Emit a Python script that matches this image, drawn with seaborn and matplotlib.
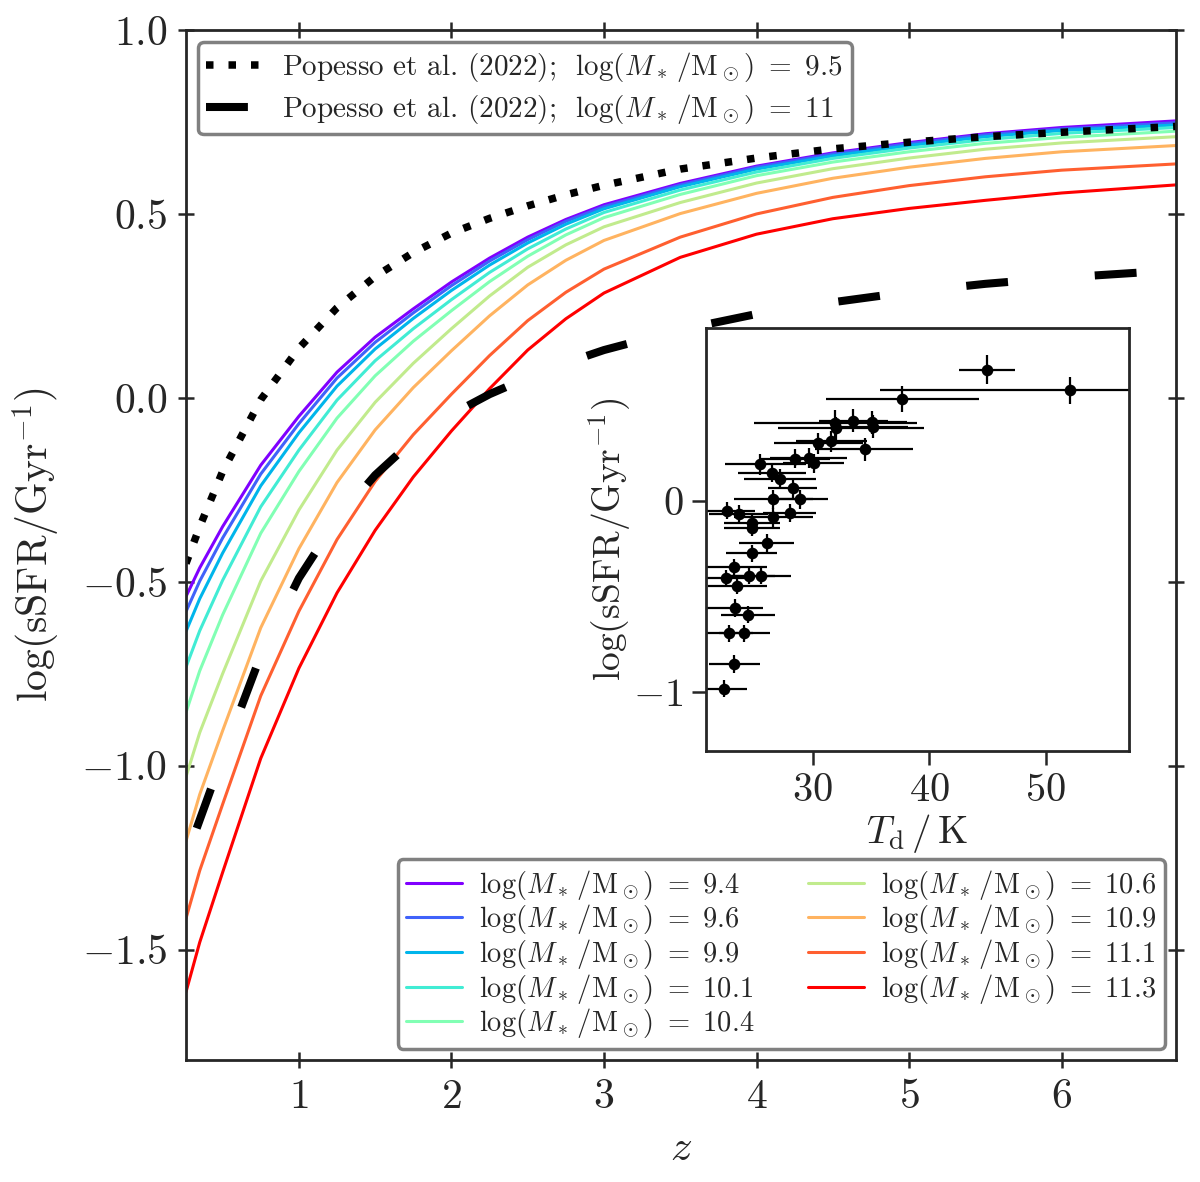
import numpy as np
import pandas as pd
import seaborn as sns
import matplotlib.pyplot as plt

# --- main panel: sSFR(z) tracks, one per stellar mass ---
z_grid = [0.26, 0.35, 0.5, 0.75, 1.0, 1.25, 1.5, 1.75, 2.0, 2.25, 2.5, 2.75,
          3.0, 3.5, 4.0, 4.5, 5.0, 5.5, 6.0, 6.75]
mass_labels = ['9.4', '9.6', '9.9', '10.1', '10.4', '10.6', '10.9', '11.1', '11.3']

ssfr_9_4 = [-0.54, -0.462, -0.35, -0.183, -0.05, 0.07, 0.165, 0.242, 0.315, 0.38,
            0.437, 0.485, 0.525, 0.583, 0.63, 0.666, 0.694, 0.718, 0.735, 0.753]
ssfr_9_6 = [-0.581, -0.498, -0.381, -0.207, -0.07, 0.054, 0.151, 0.231, 0.305, 0.372,
            0.43, 0.48, 0.52, 0.579, 0.627, 0.663, 0.691, 0.715, 0.731, 0.748]
ssfr_9_9 = [-0.635, -0.546, -0.422, -0.239, -0.095, 0.032, 0.133, 0.216, 0.292, 0.361,
            0.421, 0.472, 0.514, 0.574, 0.622, 0.658, 0.686, 0.71, 0.727, 0.742]
ssfr_10_1 = [-0.732, -0.633, -0.496, -0.296, -0.142, -0.006, 0.101, 0.188, 0.267, 0.341,
             0.405, 0.459, 0.504, 0.565, 0.614, 0.651, 0.679, 0.702, 0.719, 0.735]
ssfr_10_4 = [-0.855, -0.742, -0.59, -0.368, -0.2, -0.055, 0.06, 0.154, 0.237, 0.316,
             0.385, 0.443, 0.49, 0.553, 0.604, 0.641, 0.669, 0.692, 0.708, 0.725]
ssfr_10_6 = [-1.03, -0.91, -0.75, -0.498, -0.305, -0.142, -0.012, 0.094, 0.188, 0.277,
             0.355, 0.416, 0.465, 0.531, 0.584, 0.623, 0.652, 0.676, 0.693, 0.71]
ssfr_10_9 = [-1.205, -1.078, -0.905, -0.625, -0.41, -0.23, -0.087, 0.028, 0.128, 0.223,
             0.307, 0.374, 0.428, 0.501, 0.556, 0.597, 0.627, 0.651, 0.669, 0.686]
ssfr_11_1 = [-1.415, -1.285, -1.105, -0.81, -0.58, -0.385, -0.227, -0.10, 0.01, 0.115,
             0.21, 0.287, 0.35, 0.437, 0.50, 0.545, 0.577, 0.601, 0.619, 0.636]
ssfr_11_3 = [-1.615, -1.48, -1.29, -0.98, -0.735, -0.53, -0.36, -0.215, -0.09, 0.025,
             0.13, 0.215, 0.285, 0.382, 0.445, 0.487, 0.515, 0.537, 0.557, 0.579]

# Popesso et al. (2022) main sequence
pop95_z = z_grid
pop95 = [-0.45, -0.35, -0.2, -0.005, 0.135, 0.245, 0.33, 0.395, 0.448, 0.488,
         0.522, 0.552, 0.578, 0.622, 0.652, 0.677, 0.695, 0.71, 0.722, 0.738]
pop11_z = [0.33, 0.4, 0.5, 0.75, 1.0, 1.25, 1.5, 1.75, 2.0, 2.25, 2.5, 2.75,
           3.0, 3.5, 4.0, 4.5, 5.0, 5.5, 6.0, 6.75]
pop11 = [-1.17, -1.09, -0.975, -0.70, -0.49, -0.33, -0.21, -0.115, -0.045, 0.01,
         0.055, 0.095, 0.13, 0.185, 0.228, 0.26, 0.288, 0.31, 0.327, 0.347]

# --- inset: sSFR vs dust temperature ---
td = [44.98, 52.1, 37.69, 31.93, 32.0, 33.49, 35.05, 35.15, 30.46, 31.6,
      34.44, 25.44, 28.44, 29.66, 30.06, 26.48, 27.18, 28.28, 26.6, 28.87,
      22.62, 23.63, 26.6, 28.0, 24.76, 24.76, 26.05, 24.76, 23.21, 22.55,
      24.55, 25.55, 23.5, 23.3, 24.44, 22.83, 24.12, 23.27, 22.35]
ssfr_td = [0.686, 0.578, 0.532, 0.404, 0.378, 0.418, 0.409, 0.386, 0.301, 0.31,
           0.268, 0.19, 0.22, 0.223, 0.196, 0.146, 0.115, 0.065, 0.007, 0.007,
           -0.052, -0.07, -0.086, -0.065, -0.119, -0.142, -0.223, -0.275, -0.348, -0.406,
           -0.392, -0.392, -0.444, -0.562, -0.597, -0.693, -0.693, -0.855, -0.984]
td_err_lo = [2.4, 16.3, 6.6, 7.0, 5.0, 3.0, 3.0, 3.0, 3.83, 3.07,
             4.23, 3.0, 3.0, 3.3, 2.6, 2.9, 3.1, 2.1, 3.4, 2.4,
             2.45, 2.5, 3.4, 2.3, 2.4, 2.4, 2.36, 2.2, 2.5, 2.4,
             2.2, 2.6, 2.5, 2.4, 2.3, 2.0, 2.2, 2.17, 2.0]
td_err_hi = [2.4, 6.0, 6.6, 7.0, 7.5, 3.0, 3.0, 3.0, 3.83, 3.05,
             4.19, 4.0, 3.0, 3.3, 2.6, 2.9, 3.1, 2.1, 3.4, 2.4,
             2.45, 2.5, 3.4, 2.3, 2.4, 2.4, 2.36, 2.2, 2.86, 2.4,
             2.2, 2.6, 2.57, 2.43, 2.3, 2.0, 2.2, 2.17, 2.0]
ssfr_td_err = [0.077, 0.07, 0.068, 0.07, 0.06, 0.06, 0.06, 0.06, 0.055, 0.055,
               0.06, 0.055, 0.05, 0.05, 0.05, 0.05, 0.05, 0.05, 0.05, 0.05,
               0.045, 0.045, 0.05, 0.045, 0.045, 0.045, 0.05, 0.045, 0.045, 0.045,
               0.045, 0.045, 0.045, 0.045, 0.045, 0.045, 0.045, 0.045, 0.045]

sns.set_style("ticks")
plt.rcParams.update({
    'font.family': 'serif',
    'font.serif': ['cmr10'],
    'mathtext.fontset': 'cm',
    'axes.formatter.use_mathtext': True,
    'axes.unicode_minus': True,
})

fig = plt.figure(figsize=(12, 11.82), dpi=100)
ax = fig.add_axes([0.155, 0.1032, 0.825, 0.8714])

tracks = [ssfr_9_4, ssfr_9_6, ssfr_9_9, ssfr_10_1, ssfr_10_4,
          ssfr_10_6, ssfr_10_9, ssfr_11_1, ssfr_11_3]
curves = pd.DataFrame({
    'z': np.tile(z_grid, len(mass_labels)),
    'ssfr': np.concatenate(tracks),
    'mass': np.repeat(mass_labels, len(z_grid)),
})
colors = plt.cm.rainbow(np.linspace(0, 1, len(mass_labels)))
sns.lineplot(data=curves, x='z', y='ssfr', hue='mass', hue_order=mass_labels,
             palette=list(colors), lw=2.2, legend=False, sort=False, ax=ax)
mass_lines = list(ax.lines)

sns.lineplot(x=pop95_z, y=pop95, color='black', lw=5.4,
             linestyle=(0, (1, 2)), sort=False, ax=ax)
sns.lineplot(x=pop11_z, y=pop11, color='black', lw=5.8,
             linestyle=(0, (5.2, 10.8)), sort=False, ax=ax)
pop_lines = list(ax.lines[len(mass_lines):])

ax.set_xlim(0.26, 6.75)
ax.set_ylim(-1.8, 1.0)
ax.set_xticks([1, 2, 3, 4, 5, 6])
ax.set_yticks([-1.5, -1.0, -0.5, 0.0, 0.5, 1.0])
ax.tick_params(direction='inout', length=11, width=1.8, top=True, right=True,
               labelsize=30, pad=8)
for sp in ax.spines.values():
    sp.set_linewidth(2.0)
ax.set_xlabel(r'$z$', fontsize=31, labelpad=10)
ax.set_ylabel(r'$\log(\mathrm{sSFR}/\mathrm{Gyr}^{-1})$', fontsize=30)
ax.yaxis.set_label_coords(-0.125, 0.5)

eq = r'\ =\ '
leg1 = ax.legend(handles=pop_lines,
                 labels=[r'Popesso et al. (2022);  $\log(M_*\,/\mathrm{M}_\odot)' + eq + '9.5$',
                         r'Popesso et al. (2022);  $\log(M_*\,/\mathrm{M}_\odot)' + eq + '11$'],
                 loc='upper left', fontsize=21, framealpha=1, borderaxespad=0.4,
                 borderpad=0.3, labelspacing=0.25, handletextpad=0.5,
                 handlelength=2.1)
leg1.get_frame().set_edgecolor('0.5')
leg1.get_frame().set_linewidth(2.5)
ax.add_artist(leg1)

leg2 = ax.legend(handles=mass_lines,
                 labels=[r'$\log(M_*\,/\mathrm{M}_\odot)' + eq + m + '$' for m in mass_labels],
                 loc='lower right', ncol=2, fontsize=20.5, framealpha=1,
                 borderaxespad=0.4, borderpad=0.3, handletextpad=0.6,
                 handlelength=1.95, columnspacing=1.9, labelspacing=0.02)
leg2.get_frame().set_edgecolor('0.5')
leg2.get_frame().set_linewidth(2.5)

# inset
axin = fig.add_axes([0.588, 0.3646, 0.3525, 0.3582])
axin.errorbar(td, ssfr_td, xerr=[td_err_lo, td_err_hi], yerr=ssfr_td_err,
              fmt='none', ecolor='black', elinewidth=1.6, capsize=0, zorder=2)
sns.scatterplot(x=td, y=ssfr_td, color='black', s=70, marker='o',
                edgecolor='black', linewidth=0, zorder=3, ax=axin)
axin.set_xlim(20.8, 57.1)
axin.set_ylim(-1.31, 0.905)
axin.set_xticks([30, 40, 50])
axin.set_yticks([-1, 0])
axin.tick_params(direction='out', length=10, width=1.8, labelsize=29, pad=6)
for sp in axin.spines.values():
    sp.set_linewidth(2.0)
axin.set_xlabel(r'$T_\mathrm{d}\,/\,\mathrm{K}$', fontsize=28, labelpad=2)
axin.set_ylabel(r'$\log(\mathrm{sSFR}/\mathrm{Gyr}^{-1})$', fontsize=27)
axin.yaxis.set_label_coords(-0.171, 0.5)

fig.savefig('out.png', dpi=100)
